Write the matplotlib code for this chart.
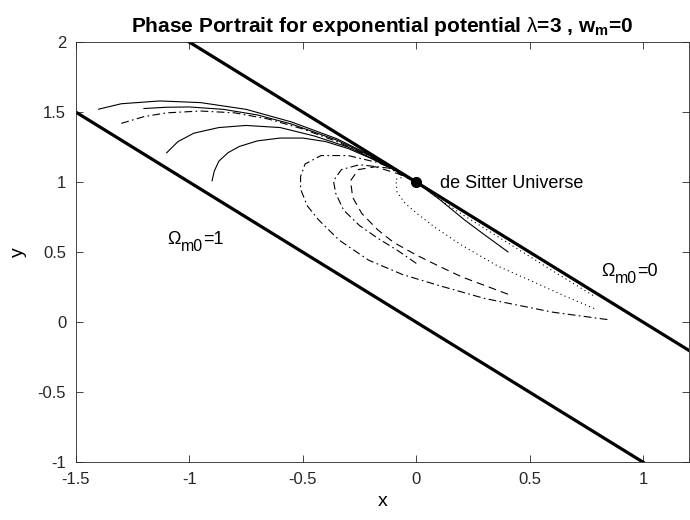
import matplotlib
matplotlib.use("Agg")
import matplotlib.pyplot as plt

plt.rcParams["font.family"] = ["Liberation Sans", "DejaVu Sans"]
plt.rcParams["mathtext.fontset"] = "custom"
plt.rcParams["mathtext.rm"] = "Liberation Sans"
plt.rcParams["mathtext.it"] = "Liberation Sans:italic"
plt.rcParams["mathtext.bf"] = "Liberation Sans:bold"

# boundary lines (Omega_m0 = 1 and Omega_m0 = 0)
bound1_x = [-1.5, 1.0]
bound1_y = [1.5, -1.0]
bound0_x = [-1.0, 1.2]
bound0_y = [2.0, -0.2]

# upper trajectories (coming in from the left)
u1_x = [-1.40, -1.30, -1.13, -0.95, -0.75, -0.55, -0.35, -0.20, -0.10, 0.0]
u1_y = [1.521, 1.56, 1.58, 1.568, 1.52, 1.43, 1.31, 1.19, 1.10, 1.0]
u2_x = [-1.20, -1.10, -1.00, -0.85, -0.70, -0.55, -0.35, -0.20, -0.10, 0.0]
u2_y = [1.526, 1.535, 1.537, 1.52, 1.48, 1.415, 1.30, 1.185, 1.095, 1.0]
u3_x = [-1.30, -1.20, -1.10, -0.95, -0.80, -0.65, -0.50, -0.35, -0.20, -0.10, 0.0]
u3_y = [1.42, 1.468, 1.495, 1.508, 1.495, 1.45, 1.38, 1.29, 1.18, 1.09, 1.0]
u4_x = [-1.10, -1.05, -0.98, -0.87, -0.75, -0.60, -0.45, -0.30, -0.15, -0.05, 0.0]
u4_y = [1.21, 1.29, 1.35, 1.39, 1.405, 1.39, 1.33, 1.25, 1.135, 1.055, 1.0]
u5_x = [-0.90, -0.89, -0.87, -0.83, -0.78, -0.70, -0.60, -0.50, -0.40, -0.30, -0.20, -0.10, 0.0]
u5_y = [1.01, 1.08, 1.15, 1.21, 1.255, 1.295, 1.315, 1.315, 1.29, 1.24, 1.17, 1.09, 1.0]

# lower loops
l1_x = [0.842, 0.60, 0.30, 0.10, -0.06, -0.21, -0.34, -0.43, -0.48, -0.51, -0.51, -0.49, -0.42, -0.30, -0.17, -0.08, 0.0]
l1_y = [0.019, 0.072, 0.17, 0.262, 0.34, 0.443, 0.586, 0.73, 0.83, 0.95, 1.04, 1.13, 1.19, 1.19, 1.14, 1.08, 1.0]
l2_x = [0.0, -0.08, -0.17, -0.25, -0.32, -0.355, -0.365, -0.33, -0.25, -0.12, 0.0]
l2_y = [0.42, 0.51, 0.60, 0.69, 0.80, 0.92, 1.01, 1.09, 1.125, 1.10, 1.0]
l3_x = [0.404, 0.20, 0.10, 0.0, -0.10, -0.17, -0.24, -0.28, -0.29, -0.255, -0.18, -0.08, 0.0]
l3_y = [0.20, 0.324, 0.40, 0.48, 0.57, 0.66, 0.776, 0.89, 1.01, 1.09, 1.11, 1.06, 1.0]
d1_x = [0.784, 0.65, 0.50, 0.36, 0.20, 0.08, 0.0, -0.05, -0.085, -0.09, -0.05, 0.0]
d1_y = [0.098, 0.19, 0.30, 0.40, 0.55, 0.68, 0.78, 0.85, 0.93, 1.02, 1.04, 1.0]
d2_x = [0.0, 0.1, 0.2, 0.4, 0.6, 0.78]
d2_y = [1.0, 0.88, 0.772, 0.57, 0.368, 0.19]
s1_x = [0.0, 0.1, 0.213, 0.30, 0.404]
s1_y = [1.0, 0.88, 0.73, 0.625, 0.502]

fig = plt.figure(figsize=(6.9, 5.2), dpi=100)
ax = fig.add_axes([0.110, 0.111, 0.888, 0.808])

ax.plot(bound1_x, bound1_y, color="k", lw=2.3)
ax.plot(bound0_x, bound0_y, color="k", lw=2.3)

thin = 0.8
dashdot = (0, (7, 3, 1.5, 3))
dashed = (0, (7, 4.5))
dotted = (0, (1, 3))

ax.plot(u1_x, u1_y, color="k", lw=thin)
ax.plot(u2_x, u2_y, color="k", lw=thin)
ax.plot(u3_x, u3_y, color="k", lw=thin, ls=dashdot)
ax.plot(u4_x, u4_y, color="k", lw=thin)
ax.plot(u5_x, u5_y, color="k", lw=thin)

ax.plot(l1_x, l1_y, color="k", lw=thin, ls=dashdot)
ax.plot(l2_x, l2_y, color="k", lw=thin, ls=dashdot)
ax.plot(l3_x, l3_y, color="k", lw=thin, ls=dashed)
ax.plot(d1_x, d1_y, color="k", lw=thin, ls=dotted)
ax.plot(d2_x, d2_y, color="k", lw=thin, ls=dotted)
ax.plot(s1_x, s1_y, color="k", lw=thin)

ax.plot([0], [1], "o", color="k", markersize=7)
ax.text(0.105, 0.993, "de Sitter Universe", fontsize=13, va="center")


def omega_label(x, y, tail):
    # Omega with a near full-size subscript, as in the original figure
    t1 = ax.text(x, y, "\u03a9", fontsize=13, va="bottom")
    t2 = ax.annotate("m0", xy=(1, 0), xycoords=t1, xytext=(0.3, -4),
                     textcoords="offset points", fontsize=11.5, va="bottom")
    ax.annotate(tail, xy=(1, 0), xycoords=t2, xytext=(0, 4),
                textcoords="offset points", fontsize=13, va="bottom")


omega_label(-1.096, 0.53, "=1")
omega_label(0.816, 0.30, "=0")

ax.set_xlim(-1.5, 1.2)
ax.set_ylim(-1, 2)
ax.set_xticks([-1.5, -1, -0.5, 0, 0.5, 1])
ax.set_xticklabels(["-1.5", "-1", "-0.5", "0", "0.5", "1"])
ax.set_yticks([-1, -0.5, 0, 0.5, 1, 1.5, 2])
ax.set_yticklabels(["-1", "-0.5", "0", "0.5", "1", "1.5", "2"])
ax.tick_params(direction="in", top=True, right=True, length=5, width=0.6,
               labelsize=12, colors="#262626")
ax.tick_params(axis="x", pad=7)
ax.tick_params(axis="y", pad=7)
for sp in ax.spines.values():
    sp.set_linewidth(0.6)
    sp.set_color("#262626")

ax.set_xlabel("x", fontsize=14, labelpad=4)
ax.set_ylabel("y", fontsize=14, labelpad=8)
ax.set_title(r"Phase Portrait for exponential potential $\mathrm{\lambda}$=3 , w$_\mathbf{m}$=0",
             fontsize=15, fontweight="bold", pad=7)

fig.savefig("out.png", dpi=100)
